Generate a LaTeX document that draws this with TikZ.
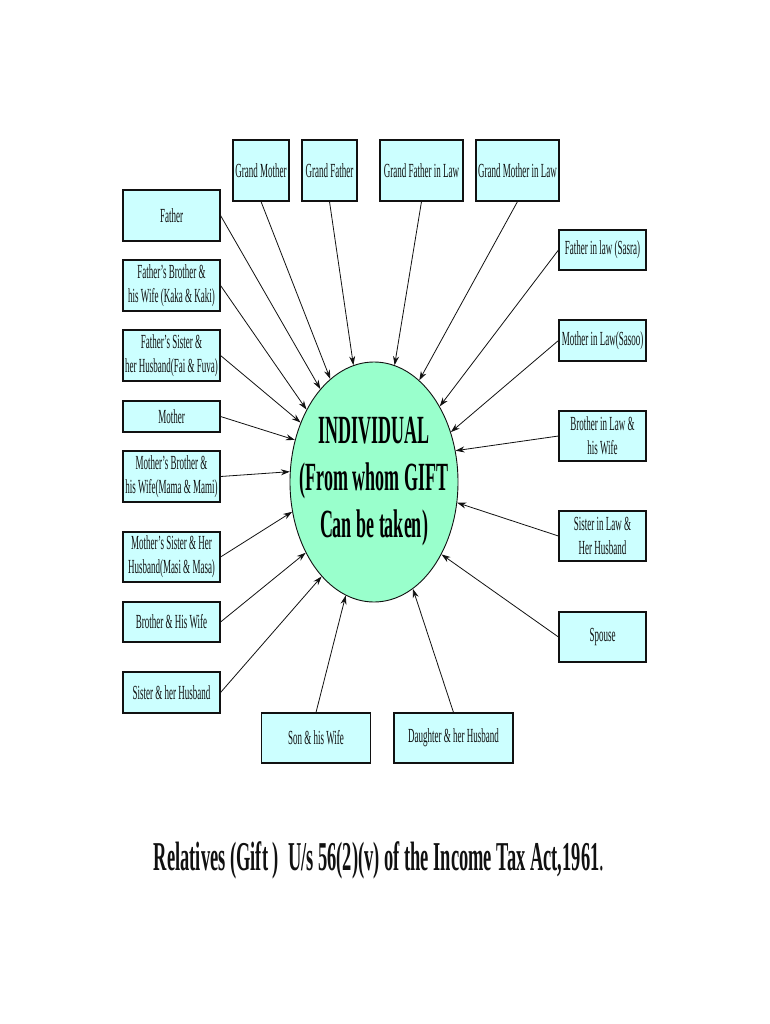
\documentclass[tikz,border=0pt]{standalone}
\usepackage{fontspec}
\setmainfont{Liberation Serif}[FakeStretch=0.45]
\usepackage{xcolor}
\usepackage{tikz}
\usetikzlibrary{arrows.meta,shapes.geometric}
\definecolor{cBox}{HTML}{CCFFFF}
\definecolor{cMint}{HTML}{99FFCC}
\definecolor{cInk}{HTML}{111111}
\tikzset{
  rbox/.style={draw=cInk,fill=cBox,line width=1.1pt,align=center,inner sep=0pt,
    font=\fontsize{20}{24}\selectfont,text=cInk},
  arr/.style={-{Stealth[length=9pt,width=6pt]},line width=0.8pt,color=cInk},
}
\begin{document}
\begin{tikzpicture}[x=1pt,y=-1pt]
  \useasboundingbox (0,0) rectangle (770,1024);
  % centre
  \node[ellipse,draw=cInk,fill=cMint,line width=0.9pt,minimum width=168pt,minimum height=240pt,
        inner xsep=-17pt,inner ysep=0pt,align=center,font=\fontsize{40}{47}\selectfont\bfseries] (ind) at (374,482)
        {INDIVIDUAL\\(From whom GIFT\\Can be taken)};
  % top row
  \foreach \n/\x/\w/\a/\t in {gm/261/56/113.9/Grand Mother,gf/329.5/55/100/Grand Father,
      gfl/421.5/83/80.4/Grand Father in Law,gml/517.5/83/66.3/Grand Mother in Law}{
    \node[rbox,minimum width=\w pt,minimum height=61pt] (\n) at (\x,170.5) {\t};
    \draw[arr] (\n.south) -- (ind.\a);}
  % left column
  \foreach \n/\y/\h/\a/\t in {fa/215.5/51/120.8/Father,
      fb/285.5/51/133.8/{Father’s Brother \&\\his Wife (Kaka \& Kaki)},
      fs/355.5/51/141.2/{Father’s Sister \&\\her Husband(Fai \& Fuva)},
      mo/416.5/31/152.9/Mother,
      mb/476.5/51/173.4/{Mother’s Brother \&\\his Wife(Mama \& Mami)},
      ms/557/50/200.1/{Mother’s Sister \& Her\\Husband(Masi \& Masa)},
      br/622/40/226.6/{Brother \& His Wife},
      si/692.5/41/241.9/{Sister \& her Husband}}{
    \node[rbox,minimum width=97pt,minimum height=\h pt] (\n) at (171.5,\y) {\t};
    \draw[arr] (\n.east) -- (ind.\a);}
  % right column
  \foreach \n/\y/\h/\a/\t in {fl/250/40/49.1/Father in law (Sasra),
      ml/340.5/41/33.7/Mother in Law(Sasoo),
      bl/436/50/21.1/{Brother in Law \&\\his Wife},
      sl/536/50/346.3/{Sister in Law \&\\Her Husband},
      sp/637/50/313.8/Spouse}{
    \node[rbox,minimum width=87pt,minimum height=\h pt] (\n) at (602.5,\y) {\t};
    \draw[arr] (\n.west) -- (ind.\a);}
  % bottom row
  \node[rbox,minimum width=109pt,minimum height=50pt] (so) at (316,738) {Son \& his Wife};
  \node[rbox,minimum width=119pt,minimum height=50pt] (da) at (453.5,738) {Daughter \& her Husband};
  \draw[arr] (so.north) -- (ind.256.6);
  \draw[arr] (da.north) -- (ind.290.2);
  % caption
  \node[font=\fontsize{41}{48}\selectfont,text=cInk] (cap) at (379,860)
    {\textbf{Relatives (Gift )\ \ U/s 56(2)(v) of the Income Tax Act,1961}.};
\end{tikzpicture}
\end{document}
